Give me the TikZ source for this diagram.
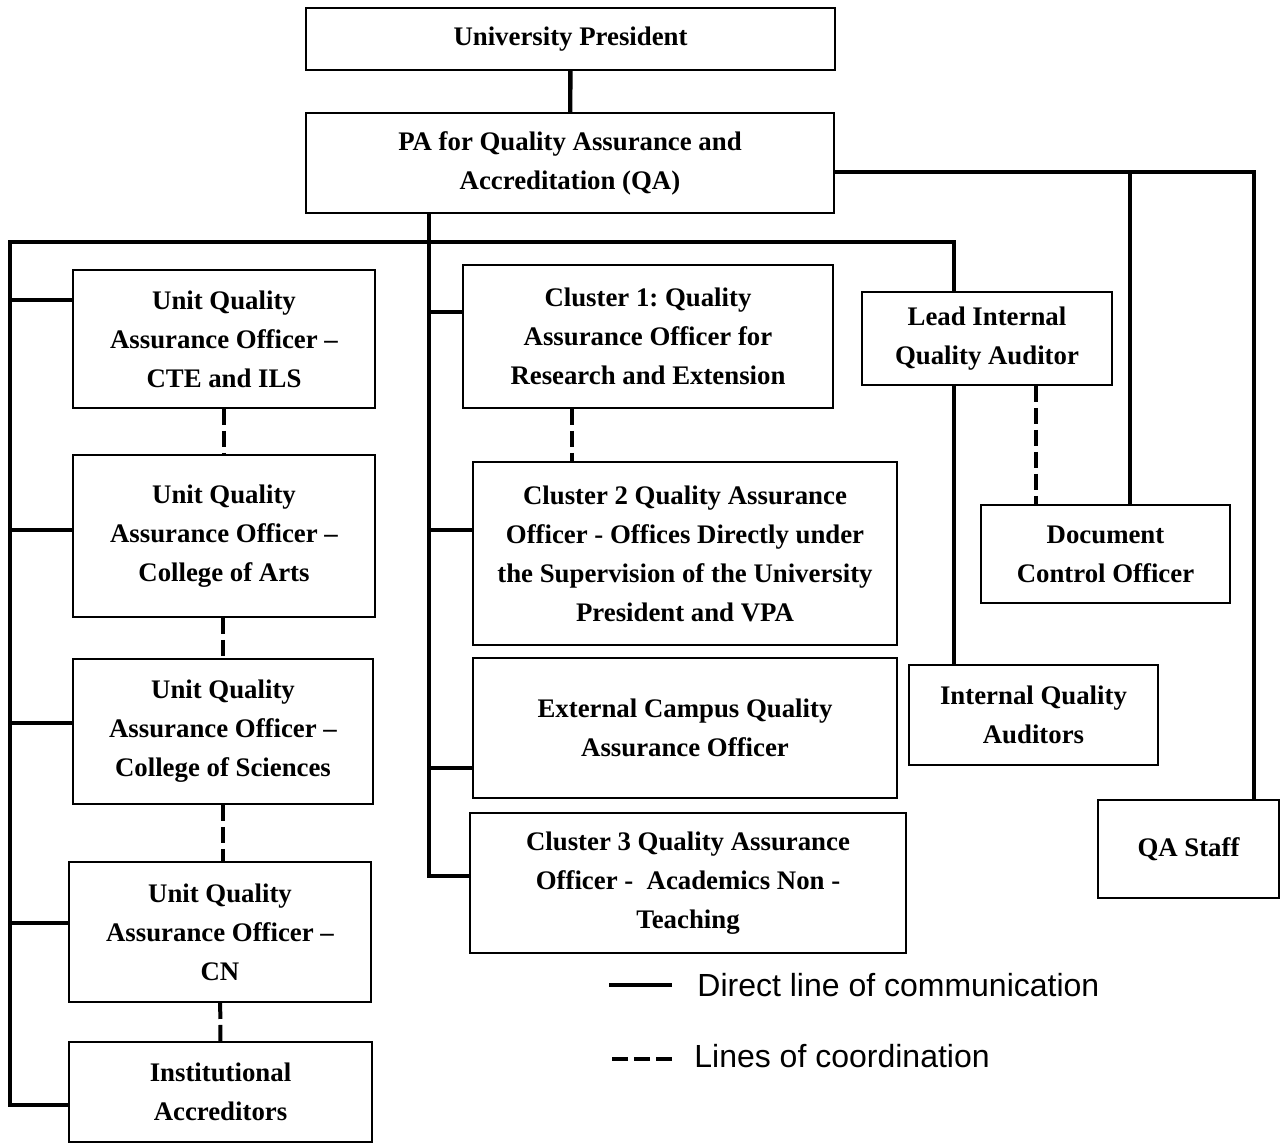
\documentclass[tikz,border=0pt]{standalone}
\usepackage{fontspec}
\setmainfont{Liberation Serif}
\newfontfamily\legendfont{Liberation Sans}
\frenchspacing
\begin{document}
\begin{tikzpicture}[x=0.5pt,y=-0.5pt,
  box/.style={draw, line width=1pt, inner sep=0pt, align=center, font=\bfseries\fontsize{13.4}{19.5}\selectfont},
  direct/.style={line width=2.2pt},
  coord/.style={line width=2pt, dash pattern=on 8pt off 3pt},
  legend/.style={inner sep=0pt, anchor=base west, font=\legendfont\fontsize{16}{19}\selectfont}]
\useasboundingbox (0,0) rectangle (1282,1143);
\node[box, minimum width=264.5pt, minimum height=31pt] (pres) at (570.5,39){University President};
\node[box, minimum width=264pt, minimum height=50pt] (pa) at (570,163){PA for Quality Assurance and\\Accreditation (QA)};
\node[box, minimum width=151pt, minimum height=69pt] (unit1) at (224,339){Unit Quality\\Assurance Officer --\\CTE and ILS};
\node[box, minimum width=151pt, minimum height=81pt] (unit2) at (224,536){Unit Quality\\Assurance Officer --\\College of Arts};
\node[box, minimum width=150pt, minimum height=72.5pt] (unit3) at (223,731.5){Unit Quality\\Assurance Officer --\\College of Sciences};
\node[box, minimum width=151pt, minimum height=70pt] (unit4) at (220,932){Unit Quality\\Assurance Officer --\\CN};
\node[box, minimum width=151.5pt, minimum height=50pt] (acc) at (220.5,1092){Institutional\\Accreditors};
\node[box, minimum width=185pt, minimum height=71.5pt] (clu1) at (648,336.5){Cluster 1: Quality\\Assurance Officer for\\Research and Extension};
\node[box, minimum width=212pt, minimum height=91.5pt] (clu2) at (685,553.5){Cluster 2 Quality Assurance\\Officer - Offices Directly under\\the Supervision of the University\\President and VPA};
\node[box, minimum width=212pt, minimum height=70pt] (ext) at (685,728){External Campus Quality\\Assurance Officer};
\node[box, minimum width=218pt, minimum height=70pt] (clu3) at (688,883){Cluster 3 Quality Assurance\\Officer -\ \ Academics Non -\\Teaching};
\node[box, minimum width=125pt, minimum height=46.5pt] (lead) at (987,338.5){Lead Internal\\Quality Auditor};
\node[box, minimum width=124.5pt, minimum height=49pt] (doc) at (1105.5,554){Document\\Control Officer};
\node[box, minimum width=124.5pt, minimum height=50pt] (iqa) at (1033.5,715){Internal Quality\\Auditors};
\node[box, minimum width=90.5pt, minimum height=49pt] (staff) at (1188.5,849){QA Staff};

% junctions
\coordinate (lt) at (10,242);
\coordinate (rt) at (954,242);
\coordinate (lb) at (10,1105);
\coordinate (mt) at (429,876);
\coordinate (rr) at (1254,172);
\coordinate (dj) at (1130,172);
\coordinate (cd) at (572,0);
\coordinate (ld) at (1036,0);

% direct lines
\draw[direct](pres) -- (pa);
\draw[direct](rt |- lead.north) -- (rt) -- (lt) -- (lb) -- (lb -| acc.west);
\draw[direct](rt |- lead.south) -- (rt |- iqa.north);
\draw[direct](mt |- pa.south) -- (mt) -- (mt -| clu3.west);
\draw[direct](pa.east |- rr) -- (rr) -- (rr |- staff.north);
\draw[direct](dj) -- (dj |- doc.north);
\foreach \n/\y in {unit1/300,unit2/530,unit3/723,unit4/923}{
  \coordinate (by) at (0,\y);
  \draw[direct](lt |- by) -- (\n.west |- by);
}
\foreach \n/\y in {clu1/312,clu2/530,ext/768}{
  \coordinate (by) at (0,\y);
  \draw[direct](mt |- by) -- (\n.west |- by);
}

% lines of coordination
\draw[coord](unit1) -- (unit2);
\draw[coord](unit2.south -| unit3) -- (unit3);
\draw[coord](unit3.south) -- (unit3.south |- unit4.north);
\draw[coord](unit4) -- (acc);
\draw[coord](clu1.south -| cd) -- (clu2.north -| cd);
\draw[coord](lead.south -| ld) -- (doc.north -| ld);

% legend
\node[legend] (ldirect) at (697,997){Direct line of communication};
\node[legend] (lcoord) at (694,1068){Lines of coordination};
\draw[direct]([xshift=-12.5pt, yshift=6pt]ldirect.base west) -- ++(-31.5pt,0);
\draw[coord]([xshift=-11pt, yshift=4.5pt]lcoord.base west) -- ++(-30pt,0);
\end{tikzpicture}
\end{document}
